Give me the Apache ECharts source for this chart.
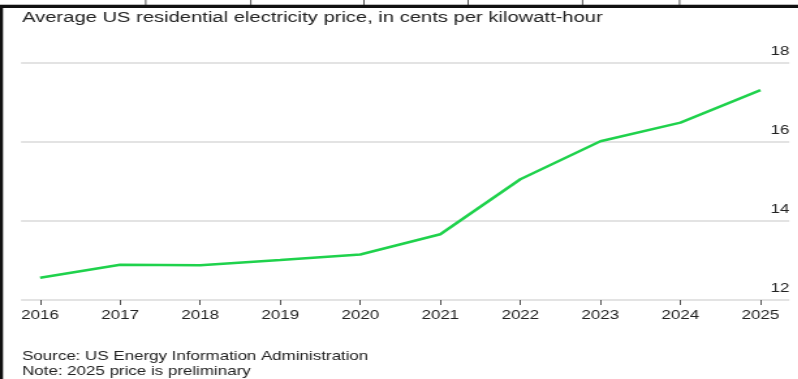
<!DOCTYPE html>
<html>
<head>
<meta charset="utf-8">
<script src="https://cdn.jsdelivr.net/npm/echarts@6/dist/echarts.min.js"></script>
<style>
html,body{margin:0;padding:0;background:#fff;overflow:hidden;}
#wrap{width:798px;height:379px;overflow:hidden;position:relative;}
#c{height:379px;transform-origin:0 0;position:absolute;left:0;top:0;}
</style>
</head>
<body>
<div id="wrap"><div id="c"></div></div>
<script>
const years = [2016, 2017, 2018, 2019, 2020, 2021, 2022, 2023, 2024, 2025];
const prices = [12.56, 12.89, 12.88, 13.01, 13.15, 13.66, 15.05, 16.01, 16.48, 17.30];
const yTicks = [12, 14, 16, 18];
const titleText = 'Average US residential electricity price, in cents per kilowatt-hour';
const sourceText = 'Source: US Energy Information Administration';
const noteText = 'Note: 2025 price is preliminary';
const topDividers = [145, 250, 363, 467, 581, 678];

// the reference typeface is wide; the whole drawing is stretched horizontally by S
const S = 1.3;
const W = 798 / S;
const el = document.getElementById('c');
el.style.width = W + 'px';
el.style.transform = 'scaleX(' + S + ')';

const FONT = '"Liberation Sans", Arial, Helvetica, sans-serif';
const chart = echarts.init(el, null, {renderer: 'canvas', width: W, height: 379});
const px = v => v / S;

const graphics = [
  {type: 'rect', shape: {x: 0, y: 4, width: W, height: 1}, style: {fill: '#bdbdbd'}, silent: true},
  {type: 'rect', shape: {x: 0, y: 5, width: W, height: 3}, style: {fill: '#111'}, silent: true},
  {type: 'rect', shape: {x: 0, y: 5, width: px(3), height: 374}, style: {fill: '#111'}, silent: true},
  {type: 'text', left: px(22), top: 10, style: {text: titleText, font: '15.5px ' + FONT, fill: '#222'}},
  {type: 'text', left: px(22), top: 350, style: {text: sourceText, font: '13px ' + FONT, fill: '#222'}},
  {type: 'text', left: px(22), top: 365, style: {text: noteText, font: '13px ' + FONT, fill: '#222'}}
];
topDividers.forEach(x => graphics.push({type: 'rect', shape: {x: px(x), y: 0, width: px(1), height: 5}, style: {fill: '#222'}, silent: true}));

chart.setOption({
  animation: false,
  backgroundColor: '#fff',
  grid: {left: px(21), right: px(10), top: 62.5, bottom: 79, containLabel: false},
  xAxis: {
    type: 'value',
    min: 2015.762,
    max: 2025.36,
    splitLine: {show: false},
    axisLine: {show: false},
    axisTick: {show: true, customValues: years, length: 5, lineStyle: {color: '#444', width: px(1.2)}},
    axisLabel: {customValues: years, color: '#222', fontSize: 13, fontFamily: FONT, margin: 9, formatter: v => String(v)}
  },
  yAxis: {
    type: 'value',
    position: 'right',
    min: 12,
    max: 18,
    interval: 2,
    axisLine: {show: false},
    axisTick: {show: false},
    splitLine: {show: true, lineStyle: {color: '#e3e3e3', width: 2}},
    axisLabel: {inside: true, margin: 0, color: '#222', fontSize: 13, fontFamily: FONT, verticalAlign: 'bottom', padding: [0, 0, 5, 0],
      customValues: yTicks}
  },
  series: [{
    type: 'line',
    data: years.map((y, i) => [y, prices[i]]),
    showSymbol: false,
    lineStyle: {color: '#1fd24c', width: 2.5},
    z: 5
  }],
  graphic: graphics
});
</script>
</body>
</html>
